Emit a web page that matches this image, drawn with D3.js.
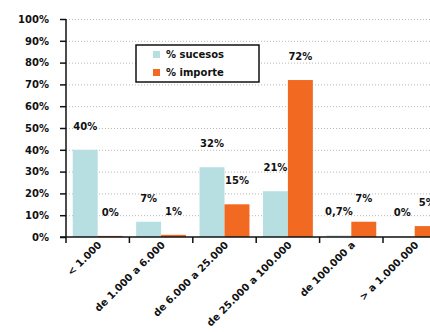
<!DOCTYPE html>
<html>
<head>
<meta charset="utf-8">
<script src="https://cdn.jsdelivr.net/npm/d3@7"></script>
<style>
  html, body { margin: 0; padding: 0; background: #fff; }
  svg { display: block; }
  text { font-family: "DejaVu Sans", sans-serif; font-weight: bold; fill: #111; }
</style>
</head>
<body>
<svg id="chart" width="430" height="332"></svg>
<script>
// Tramos de importe
const categories = ["< 1.000", "de 1.000 a 6.000", "de 6.000 a 25.000", "de 25.000 a 100.000", "de 100.000 a", "> a 1.000.000"];
// Porcentaje de sucesos por tramo
const sucesos = [40, 7, 32, 21, 0.7, 0.3];
// Porcentaje de importe por tramo
const importe = [0.5, 1, 15, 72, 7, 5];
const yTicks = [0, 10, 20, 30, 40, 50, 60, 70, 80, 90, 100];
const seriesNames = ["% sucesos", "% importe"];
const colors = ["#b7dfe2", "#f26a22"];

const svg = d3.select("#chart");
const x0 = 66, yBase = 237, yTop = 19;

const x = d3.scaleBand().domain(categories).range([x0, x0 + 6 * 63.4]).paddingInner(0).paddingOuter(0);
const xs = d3.scaleBand().domain([0, 1]).range([0, x.bandwidth()]).paddingInner(0).paddingOuter(0.27);
const y = d3.scaleLinear().domain([0, 100]).range([yBase, yTop]);

// Dotted grid
svg.append("g").selectAll("line").data(yTicks.filter(t => t > 0)).join("line")
  .attr("x1", x0).attr("x2", 430)
  .attr("y1", d => y(d) + 0.5).attr("y2", d => y(d) + 0.5)
  .attr("stroke", "#b8b8b8").attr("stroke-width", 1).attr("stroke-dasharray", "1,2");

// Bars
const fmt = v => (v >= 1 ? Math.round(v) : v >= 0.6 ? v.toFixed(1).replace(".", ",") : 0) + "%";
const rows = [];
categories.forEach((c, i) => {
  rows.push({ c, s: 0, v: sucesos[i] });
  rows.push({ c, s: 1, v: importe[i] });
});
svg.append("g").selectAll("rect").data(rows).join("rect")
  .attr("x", d => x(d.c) + xs(d.s))
  .attr("width", xs.bandwidth())
  .attr("y", d => y(d.v))
  .attr("height", d => yBase - y(d.v))
  .attr("fill", d => colors[d.s]);

// Value labels
svg.append("g").selectAll("text").data(rows).join("text")
  .attr("x", d => x(d.c) + xs(d.s) + xs.bandwidth() / 2)
  .attr("y", d => y(d.v) - 20)
  .attr("text-anchor", "middle")
  .attr("font-size", 10)
  .text(d => fmt(d.v));

// Y axis
const yAxis = d3.axisLeft(y).tickValues(yTicks).tickFormat(d => d + "%").tickSize(6).tickPadding(11);
const gy = svg.append("g").attr("transform", `translate(${x0},0)`).call(yAxis);
gy.select(".domain").attr("stroke", "#111").attr("stroke-width", 1.5).attr("d", `M0,${yTop}V${yBase}`);
gy.selectAll(".tick line").attr("stroke", "#111").attr("stroke-width", 1.5);
gy.selectAll(".tick text").attr("font-size", 10).attr("font-family", "DejaVu Sans").attr("font-weight", "bold").attr("fill", "#111");

// X axis with boundary ticks
const gx = svg.append("g").attr("transform", `translate(0,${yBase})`);
gx.append("line").attr("x1", x0 - 6).attr("x2", 430).attr("y1", 0).attr("y2", 0)
  .attr("stroke", "#111").attr("stroke-width", 1.5);
gx.selectAll(".bt").data(categories).join("line").attr("class", "bt")
  .attr("x1", d => x(d)).attr("x2", d => x(d)).attr("y1", 0).attr("y2", 6)
  .attr("stroke", "#111").attr("stroke-width", 1.5);
gx.selectAll(".cl").data(categories).join("text").attr("class", "cl")
  .attr("transform", d => `translate(${x(d) + x.bandwidth() / 2 + 2},6) rotate(-45)`)
  .attr("text-anchor", "end")
  .attr("dy", "0.35em")
  .attr("font-size", 10)
  .text(d => d);

// Legend
const lg = svg.append("g").attr("transform", "translate(136,45)");
lg.append("rect").attr("width", 123).attr("height", 37)
  .attr("fill", "#fff").attr("stroke", "#111").attr("stroke-width", 1.5);
seriesNames.forEach((n, i) => {
  lg.append("rect").attr("x", 17).attr("y", 6 + i * 18).attr("width", 7).attr("height", 7).attr("fill", colors[i]);
  lg.append("text").attr("x", 30).attr("y", 13 + i * 18).attr("font-size", 10).text(n);
});
</script>
</body>
</html>
